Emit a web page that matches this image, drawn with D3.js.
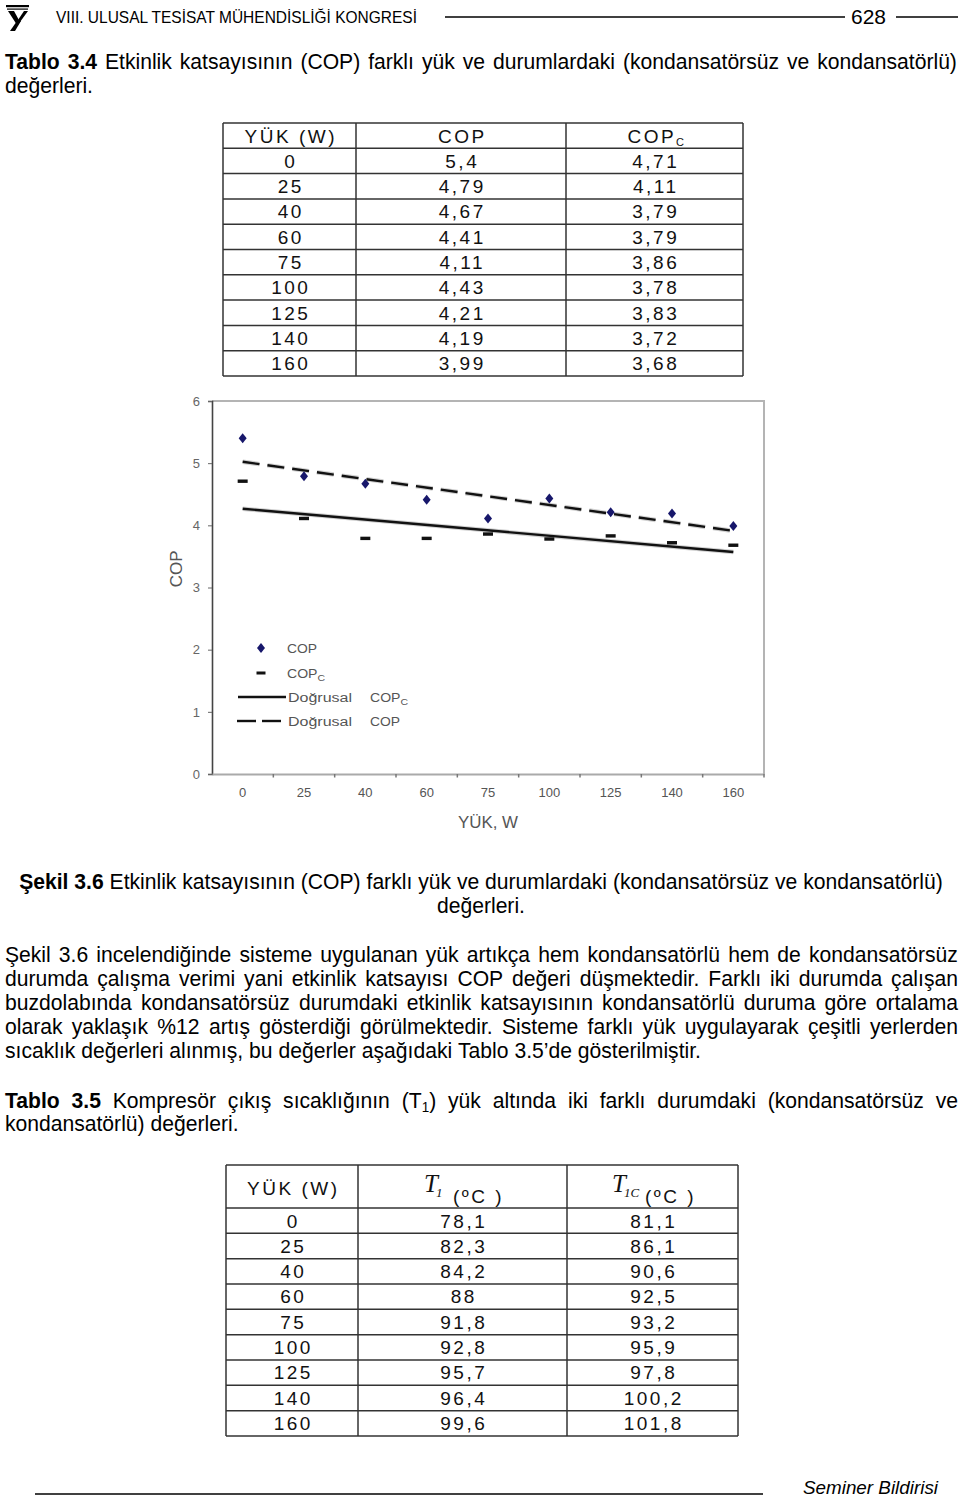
<!DOCTYPE html>
<html><head><meta charset="utf-8">
<script src="https://cdn.jsdelivr.net/npm/d3@7"></script>
<style>html,body{margin:0;padding:0;background:#fff;} svg{display:block;}</style>
</head><body>
<svg id="page" width="960" height="1499"></svg>
<script>
// ---------------- DATA ----------------
const loads = [0, 25, 40, 60, 75, 100, 125, 140, 160];
const cop   = [5.4, 4.79, 4.67, 4.41, 4.11, 4.43, 4.21, 4.19, 3.99];
const copC  = [4.71, 4.11, 3.79, 3.79, 3.86, 3.78, 3.83, 3.72, 3.68];
const t1    = [78.1, 82.3, 84.2, 88, 91.8, 92.8, 95.7, 96.4, 99.6];
const t1C   = [81.1, 86.1, 90.6, 92.5, 93.2, 95.9, 97.8, 100.2, 101.8];
const yTicks = [0, 1, 2, 3, 4, 5, 6];
const xTickLabels = loads.map(String);

// ---------------- SETUP ----------------
const SANS = "'Liberation Sans', Arial, Helvetica, sans-serif";
const SERIF = "'Liberation Serif', 'Times New Roman', serif";
const svg = d3.select('#page');
svg.append('rect').attr('width', 960).attr('height', 1499).attr('fill', '#fff');
const fmt = v => String(v).replace('.', ',');

// ---------------- HEADER ----------------
const hdr = svg.append('g');
// logo
hdr.append('rect').attr('x', 6).attr('y', 5).attr('width', 23).attr('height', 2.2).attr('fill', '#000');
hdr.append('rect').attr('x', 7).attr('y', 8.5).attr('width', 21).attr('height', 1.2).attr('fill', '#000');
hdr.append('path').attr('d', 'M8,11 L14,11 L20,22 L17,25 Z').attr('fill', '#000');
hdr.append('path').attr('d', 'M24,11 L28,11 L20,22 L18,20 Z').attr('fill', '#000');
hdr.append('path').attr('d', 'M17,21 L21,21 L15,31 L10,31 Z').attr('fill', '#000');
hdr.append('text').attr('x', 56).attr('y', 23).attr('font-family', SANS).attr('font-size', 17)
  .attr('textLength', 361).attr('lengthAdjust', 'spacingAndGlyphs')
  .text('VIII. ULUSAL TESİSAT MÜHENDİSLİĞİ KONGRESİ');
hdr.append('line').attr('x1', 445).attr('x2', 845).attr('y1', 17).attr('y2', 17).attr('stroke', '#000').attr('stroke-width', 1.5);
hdr.append('text').attr('x', 851).attr('y', 24).attr('font-family', SANS).attr('font-size', 20)
  .attr('textLength', 35).attr('lengthAdjust', 'spacingAndGlyphs').text('628');
hdr.append('line').attr('x1', 896).attr('x2', 958).attr('y1', 17).attr('y2', 17).attr('stroke', '#000').attr('stroke-width', 1.5);

// ---------------- BODY TEXT ----------------
const BODY_FS = 22;
const bodyG = svg.append('g');
function buildWords(runs) {
  const words = [[]];
  runs.forEach(r => {
    const parts = r.t.split(' ');
    parts.forEach((p, i) => {
      if (i > 0) words.push([]);
      if (p) words[words.length - 1].push(Object.assign({}, r, {t: p}));
    });
  });
  return words.filter(w => w.length);
}
function makeWord(runs) {
  const t = bodyG.append('text').attr('font-family', SANS).attr('font-size', BODY_FS).attr('fill', '#000');
  let shifted = false;
  runs.forEach(r => {
    const ts = t.append('tspan').text(r.t);
    if (r.b) ts.attr('font-weight', 'bold');
    if (r.sub) { ts.attr('font-size', 14).attr('dy', 4); shifted = true; }
    else if (shifted) { ts.attr('dy', -4); shifted = false; }
  });
  return t;
}
function measureSpace() {
  const a = bodyG.append('text').attr('font-family', SANS).attr('font-size', BODY_FS).text('a a');
  const b = bodyG.append('text').attr('font-family', SANS).attr('font-size', BODY_FS).text('aa');
  const w = a.node().getComputedTextLength() - b.node().getComputedTextLength();
  a.remove(); b.remove();
  return w;
}
const SPACE = measureSpace();

const bodyLines = [
  {y: 69, mode: 'justify', a: 5, b: 957, runs: [{t: 'Tablo 3.4', b: 1}, {t: ' Etkinlik katsayısının (COP) farklı yük ve durumlardaki (kondansatörsüz ve kondansatörlü)'}]},
  {y: 93, mode: 'left', a: 5, runs: [{t: 'değerleri.'}]},
  {y: 889, mode: 'center', a: 481, runs: [{t: 'Şekil 3.6', b: 1}, {t: ' Etkinlik katsayısının (COP) farklı yük ve durumlardaki (kondansatörsüz ve kondansatörlü)'}]},
  {y: 913, mode: 'center', a: 481, runs: [{t: 'değerleri.'}]},
  {y: 962, mode: 'justify', a: 5, b: 958, runs: [{t: 'Şekil 3.6 incelendiğinde sisteme uygulanan yük artıkça hem kondansatörlü hem de kondansatörsüz'}]},
  {y: 986, mode: 'justify', a: 5, b: 958, runs: [{t: 'durumda çalışma verimi yani etkinlik katsayısı COP değeri düşmektedir. Farklı iki durumda çalışan'}]},
  {y: 1010, mode: 'justify', a: 5, b: 958, runs: [{t: 'buzdolabında kondansatörsüz durumdaki etkinlik katsayısının kondansatörlü duruma göre ortalama'}]},
  {y: 1034, mode: 'justify', a: 5, b: 958, runs: [{t: 'olarak yaklaşık %12 artış gösterdiği görülmektedir. Sisteme farklı yük uygulayarak çeşitli yerlerden'}]},
  {y: 1058, mode: 'left', a: 5, calib: 696, runs: [{t: 'sıcaklık değerleri alınmış, bu değerler aşağıdaki Tablo 3.5’de gösterilmiştir.'}]},
  {y: 1108, mode: 'justify', a: 5, b: 958, runs: [{t: 'Tablo 3.5', b: 1}, {t: ' Kompresör çıkış sıcaklığının (T'}, {t: '1', sub: 1}, {t: ') yük altında iki farklı durumdaki (kondansatörsüz ve'}]},
  {y: 1131, mode: 'left', a: 5, runs: [{t: 'kondansatörlü) değerleri.'}]}
];

bodyLines.forEach(L => {
  L.words = buildWords(L.runs).map(w => {
    const node = makeWord(w);
    return {node, w: node.node().getComputedTextLength()};
  });
  L.natural = d3.sum(L.words, d => d.w) + SPACE * (L.words.length - 1);
});
const calibLine = bodyLines.find(L => L.calib);
const SX = calibLine.calib / calibLine.natural;

bodyLines.forEach(L => {
  const n = L.words.length;
  const sum = d3.sum(L.words, d => d.w) * SX;
  let gap = SPACE * SX, start;
  if (L.mode === 'justify') { start = L.a; gap = n > 1 ? (L.b - L.a - sum) / (n - 1) : 0; }
  else if (L.mode === 'center') { start = L.a - (sum + gap * (n - 1)) / 2; }
  else { start = L.a; }
  let cx = start;
  L.words.forEach(d => {
    d.node.attr('transform', `translate(${cx},${L.y}) scale(${SX},1)`);
    cx += d.w * SX + gap;
  });
});

// ---------------- TABLES ----------------
const TFS = 19, LS = 2.5;
function tableGrid(xs, ys) {
  const g = svg.append('g').attr('stroke', '#333').attr('stroke-width', 1.5);
  xs.forEach(xv => g.append('line').attr('x1', xv).attr('x2', xv).attr('y1', ys[0]).attr('y2', ys[ys.length - 1]));
  ys.forEach(yv => g.append('line').attr('x1', xs[0]).attr('x2', xs[xs.length - 1]).attr('y1', yv).attr('y2', yv));
}
function cellText(x, y, txt) {
  return svg.append('text').attr('x', x + LS / 2).attr('y', y).attr('text-anchor', 'middle')
    .attr('font-family', SANS).attr('font-size', TFS).attr('letter-spacing', LS).attr('fill', '#111').text(txt);
}

// Table 3.4
const t34x = [223, 356, 566, 743];
const t34y = d3.range(11).map(i => 123 + i * 25.3);
tableGrid(t34x, t34y);
const c34 = [0, 1, 2].map(i => (t34x[i] + t34x[i + 1]) / 2);
cellText(c34[0], t34y[0] + 19.5, 'YÜK (W)');
cellText(c34[1], t34y[0] + 19.5, 'COP');
{
  const t = svg.append('text').attr('x', c34[2] + LS / 2).attr('y', t34y[0] + 19.5).attr('text-anchor', 'middle')
    .attr('font-family', SANS).attr('font-size', TFS).attr('letter-spacing', LS).attr('fill', '#111');
  t.append('tspan').text('COP');
  t.append('tspan').attr('font-size', 11).attr('dy', 3).attr('letter-spacing', 0).text('C');
}
loads.forEach((ld, i) => {
  const yb = t34y[i + 1] + 19.5;
  cellText(c34[0], yb, fmt(ld));
  cellText(c34[1], yb, fmt(cop[i]));
  cellText(c34[2], yb, fmt(copC[i]));
});

// Table 3.5
const t35x = [226, 358, 567, 738];
const t35y = [1165].concat(d3.range(10).map(i => 1208 + i * 25.33));
tableGrid(t35x, t35y);
const c35 = [0, 1, 2].map(i => (t35x[i] + t35x[i + 1]) / 2);
cellText(c35[0], 1195, 'YÜK (W)');
function tHead(xT, sub, xUnit) {
  svg.append('text').attr('x', xT).attr('y', 1192).attr('font-family', SERIF).attr('font-style', 'italic')
    .attr('font-size', 25).attr('fill', '#111').text('T');
  svg.append('text').attr('x', xT + 12).attr('y', 1197).attr('font-family', SERIF).attr('font-style', 'italic')
    .attr('font-size', 13).attr('fill', '#111').text(sub);
  svg.append('text').attr('x', xUnit).attr('y', 1203).attr('font-family', SANS).attr('font-size', TFS)
    .attr('letter-spacing', LS).attr('fill', '#111').text('(ºC )');
}
tHead(424, '1', 453);
tHead(612, '1C', 645);
loads.forEach((ld, i) => {
  const yb = t35y[i + 1] + 19.5;
  cellText(c35[0], yb, fmt(ld));
  cellText(c35[1], yb, fmt(t1[i]));
  cellText(c35[2], yb, fmt(t1C[i]));
});

// ---------------- CHART ----------------
const PX0 = 212, PX1 = 764, PY0 = 401, PY1 = 774;
const x = d3.scaleBand().domain(xTickLabels).range([PX0, PX1]).padding(0);
const y = d3.scaleLinear().domain([0, 6]).range([PY1, PY0]);
const xc = i => x(xTickLabels[i]) + x.bandwidth() / 2;
const chart = svg.append('g');

chart.append('path').attr('d', `M${PX0},${PY0} L${PX1},${PY0} L${PX1},${PY1}`)
  .attr('fill', 'none').attr('stroke', '#b4b4b4').attr('stroke-width', 2);

const yAxis = chart.append('g').attr('transform', `translate(${PX0},0)`)
  .call(d3.axisLeft(y).tickValues(yTicks).tickSize(4).tickPadding(8).tickFormat(d3.format('d')));
yAxis.select('.domain').attr('stroke', '#444').attr('stroke-width', 1.6);
yAxis.selectAll('.tick line').attr('stroke', '#666');
yAxis.selectAll('text').attr('font-family', SANS).attr('font-size', 13).attr('fill', '#666');

const xAxis = chart.append('g').attr('transform', `translate(0,${PY1})`)
  .call(d3.axisBottom(x).tickSize(0).tickPadding(14));
xAxis.select('.domain').attr('stroke', '#aaa').attr('stroke-width', 2.2);
xAxis.selectAll('text').attr('font-family', SANS).attr('font-size', 13).attr('fill', '#555');
chart.append('g').selectAll('line').data(d3.range(1, loads.length + 1)).join('line')
  .attr('x1', i => PX0 + i * x.step()).attr('x2', i => PX0 + i * x.step())
  .attr('y1', PY1).attr('y2', PY1 + 3.5).attr('stroke', '#777').attr('stroke-width', 1.5);

chart.append('text').attr('transform', `translate(182,${(y(3.3))}) rotate(-90)`).attr('text-anchor', 'middle')
  .attr('font-family', SANS).attr('font-size', 17).attr('fill', '#555').text('COP');
chart.append('text').attr('x', 458).attr('y', 828).attr('font-family', SANS).attr('font-size', 16)
  .attr('textLength', 60).attr('lengthAdjust', 'spacingAndGlyphs').attr('fill', '#555').text('YÜK, W');

// linear trendlines (least squares on category index)
function linFit(vals) {
  const n = vals.length, xs = d3.range(1, n + 1);
  const mx = d3.mean(xs), my = d3.mean(vals);
  const sxy = d3.sum(xs, (xi, k) => (xi - mx) * (vals[k] - my));
  const sxx = d3.sum(xs, xi => (xi - mx) * (xi - mx));
  const m = sxy / sxx;
  return xi => my + m * (xi - mx);
}
const fitC = linFit(copC), fitP = linFit(cop);
const trendC = [0, loads.length - 1].map(i => [xc(i), y(fitC(i + 1))]);
const trendP = [0, loads.length - 1].map(i => [xc(i), y(fitP(i + 1))]);
const line = d3.line();
chart.append('path').attr('d', line(trendC)).attr('stroke', '#d0d0d0').attr('stroke-width', 4.5).attr('fill', 'none');
chart.append('path').attr('d', line(trendC)).attr('stroke', '#111').attr('stroke-width', 2.4).attr('fill', 'none');
chart.append('path').attr('d', line(trendP)).attr('stroke', '#d0d0d0').attr('stroke-width', 4.5).attr('fill', 'none').attr('stroke-dasharray', '17,8');
chart.append('path').attr('d', line(trendP)).attr('stroke', '#111').attr('stroke-width', 2.4).attr('fill', 'none').attr('stroke-dasharray', '17,8');

const diamond = 'M0,-5 L4,0 L0,5 L-4,0 Z';
chart.append('g').selectAll('rect').data(copC).join('rect')
  .attr('x', (d, i) => xc(i) - 5).attr('y', d => y(d) - 1.7).attr('width', 10).attr('height', 3.4).attr('fill', '#111');
chart.append('g').selectAll('path').data(cop).join('path')
  .attr('d', diamond).attr('transform', (d, i) => `translate(${xc(i)},${y(d)})`).attr('fill', '#17176b');

// legend
const lg = chart.append('g');
function lgText(xp, yp, main, sub, len) {
  const t = lg.append('text').attr('x', xp).attr('y', yp + 4.5).attr('font-family', SANS).attr('font-size', 12)
    .attr('fill', '#555').attr('textLength', len).attr('lengthAdjust', 'spacingAndGlyphs');
  t.append('tspan').text(main);
  if (sub) t.append('tspan').attr('font-size', 9).attr('dy', 3).text(sub);
}
lg.append('path').attr('d', diamond).attr('transform', 'translate(261,648)').attr('fill', '#17176b');
lgText(287, 648, 'COP', null, 30);
lg.append('rect').attr('x', 256.5).attr('y', 671.5).attr('width', 9).attr('height', 3).attr('fill', '#111');
lgText(287, 673, 'COP', 'C', 38);
lg.append('line').attr('x1', 238).attr('x2', 286).attr('y1', 697).attr('y2', 697).attr('stroke', '#111').attr('stroke-width', 2.4);
lgText(288, 697, 'Doğrusal', null, 64);
lgText(370, 697, 'COP', 'C', 38);
lg.append('line').attr('x1', 237).attr('x2', 256).attr('y1', 721).attr('y2', 721).attr('stroke', '#111').attr('stroke-width', 2.4);
lg.append('line').attr('x1', 262).attr('x2', 281).attr('y1', 721).attr('y2', 721).attr('stroke', '#111').attr('stroke-width', 2.4);
lgText(288, 721, 'Doğrusal', null, 64);
lgText(370, 721, 'COP', null, 30);

// ---------------- FOOTER ----------------
svg.append('line').attr('x1', 35).attr('x2', 763).attr('y1', 1494).attr('y2', 1494).attr('stroke', '#000').attr('stroke-width', 1.5);
svg.append('text').attr('x', 803).attr('y', 1494).attr('font-family', SANS).attr('font-style', 'italic')
  .attr('font-size', 18).attr('textLength', 135).attr('lengthAdjust', 'spacingAndGlyphs').text('Seminer Bildirisi');
</script>
</body></html>
